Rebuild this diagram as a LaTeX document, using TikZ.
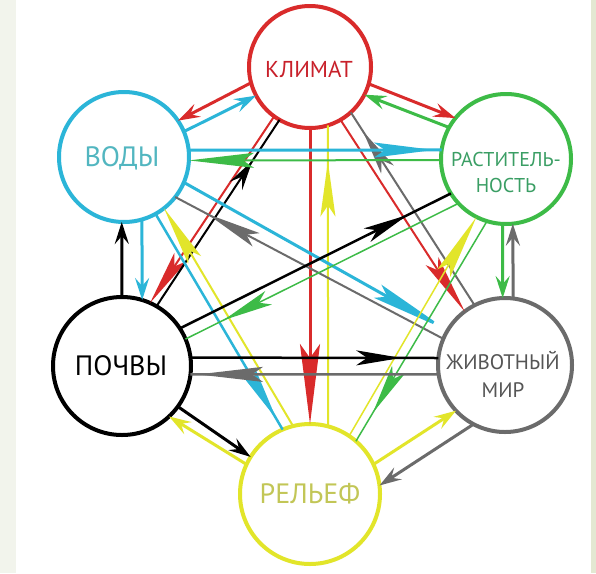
\documentclass[tikz,border=0pt]{standalone}
\usepackage{fontspec}
\setmainfont{PT Sans}
\usetikzlibrary{arrows.meta,decorations.markings}
\definecolor{cred}{HTML}{D92B2B}
\definecolor{ccyan}{HTML}{2BB5D8}
\definecolor{cgreen}{HTML}{3DBB47}
\definecolor{cgray}{HTML}{6B6B6B}
\definecolor{cyel}{HTML}{E2E52A}
\definecolor{tred}{HTML}{C8202A}
\definecolor{tcyan}{HTML}{52B6C0}
\definecolor{tgreen}{HTML}{3A9E64}
\definecolor{tgray}{HTML}{555555}
\definecolor{tyel}{HTML}{C2C656}
\definecolor{bgl}{HTML}{F2F4EC}
\definecolor{bgr}{HTML}{E3E8D2}
\tikzset{
  circ/.style={circle,line width=4pt,inner sep=0pt,outer sep=0pt,fill=none},
  lab/.style={inner sep=0pt,align=center},
  hs/.style={-{Stealth[length=22pt,width=14pt,inset=8pt]}},
  hl/.style={-{Stealth[length=#1,width=15pt,inset=11pt]}},
  hm/.style 2 args={postaction={decorate},decoration={markings,mark=at position #1 with {\arrow{Stealth[length=#2,width=15pt,inset=11pt]}}}},
}
\begin{document}
\begin{tikzpicture}[x=1pt,y=-1pt]
\useasboundingbox (0,0) rectangle (596,573);
\fill[white] (0,0) rectangle (596,573);
\fill[bgl] (0,0) rectangle (16,573);
\fill[bgr] (591,0) rectangle (596,573);
% circles
\node[circ,draw=cred,minimum size=122pt] (K) at (310,67) {};
\node[circ,draw=ccyan,minimum size=130pt] (V) at (124,157) {};
\node[circ,draw=cgreen,minimum size=130pt] (R) at (506,159) {};
\node[circ,draw=black,minimum size=138pt] (P) at (122,366) {};
\node[circ,draw=cgray,minimum size=134pt] (Z) at (505,365) {};
\node[circ,draw=cyel,minimum size=140pt] (F) at (310,494) {};
% labels
\node[lab,text=tred,font=\fontsize{23}{27}\selectfont] (Kt) at (309,69) {КЛИМАТ};
\node[lab,text=tcyan,font=\fontsize{28}{32}\selectfont] (Vt) at (122,158) {ВОДЫ};
\node[lab,text=tgreen,font=\fontsize{20}{26}\selectfont] (Rt) at (506,172) {РАСТИТЕЛЬ-\\НОСТЬ};
\node[lab,text=black,font=\fontsize{28}{32}\selectfont] (Pt) at (121,366) {ПОЧВЫ};
\node[lab,text=tgray,font=\fontsize{21}{28}\selectfont] (Zt) at (503,374) {ЖИВОТНЫЙ\\МИР};
\node[lab,text=tyel,font=\fontsize{28}{32}\selectfont] (Ft) at (310,494) {РЕЛЬЕФ};
% K - V
\draw[cred,line width=3pt,hs] (K.195) -- (V.34);
\draw[ccyan,line width=3pt,hs] (V.23) -- (K.208);
% K - R
\draw[cred,line width=3pt,hs] (K.344) -- (R.141);
\draw[cgreen,line width=3pt,hs] (R.151) -- (K.333);
% K - P
\draw[cred,line width=2pt,hl=55pt] (K.234) -- (P.66);
\draw[black,line width=2pt,hm={0.78}{30pt}] (P.60) -- (K.240);
% K - Z
\draw[cred,line width=2pt,hl=60pt] (K.300) -- (Z.127);
\draw[cgray,line width=2pt,hm={0.9}{45pt}] (Z.117) -- (K.312);
% K - F
\draw[cred,line width=3pt,-{Stealth[length=80pt,width=20pt,inset=14pt]}] (K.270) -- (F.90);
\draw[cyel,line width=2pt,hm={0.88}{55pt}] (F.75) -- (K.287);
% V - R
\draw[ccyan,line width=3pt,hm={0.97}{60pt}] (V.6) -- (R.172);
\draw[cgreen,line width=2pt,hl=65pt] (R.181) -- (V.357);
% V - P
\draw[black,line width=3pt,hs] (P.90) -- (V.268);
\draw[ccyan,line width=3pt,hs] (V.286) -- (P.73);
% V - Z
\draw[ccyan,line width=3pt,hl=80pt] (V.337) -- (Z.149);
\draw[cgray,line width=2pt,hm={0.88}{55pt}] (Z.157) -- (V.322);
% V - F
\draw[ccyan,line width=2.5pt,hm={0.95}{55pt}] (V.299) -- (F.113);
\draw[cyel,line width=2pt,hl=60pt] (F.104) -- (V.308);
% R - P
\draw[black,line width=2.5pt,hm={0.84}{45pt}] (P.33) -- (R.212);
\draw[cgreen,line width=1.5pt,hm={0.86}{50pt}] (R.223) -- (P.23);
% R - Z
\draw[cgreen,line width=3pt,hs] (R.267) -- (Z.92);
\draw[cgray,line width=3pt,hs] (Z.83) -- (R.276);
% R - F
\draw[cgreen,line width=1.5pt,hm={0.87}{50pt}] (R.253) -- (F.49);
\draw[cyel,line width=1.5pt,hl=65pt] (F.56) -- (R.243);
% P - Z
\draw[black,line width=2.5pt,hm={0.85}{45pt}] (P.7) -- (Z.174);
\draw[cgray,line width=2.5pt,hm={0.97}{65pt}] (Z.188) -- (P.353);
% P - F
\draw[black,line width=3pt,hs] (P.324) -- (F.148);
\draw[cyel,line width=3pt,hs] (F.155) -- (P.313);
% Z - F
\draw[cyel,line width=3pt,hs] (F.25) -- (Z.223);
\draw[cgray,line width=3pt,hs] (Z.242) -- (F.7);
\end{tikzpicture}
\end{document}
